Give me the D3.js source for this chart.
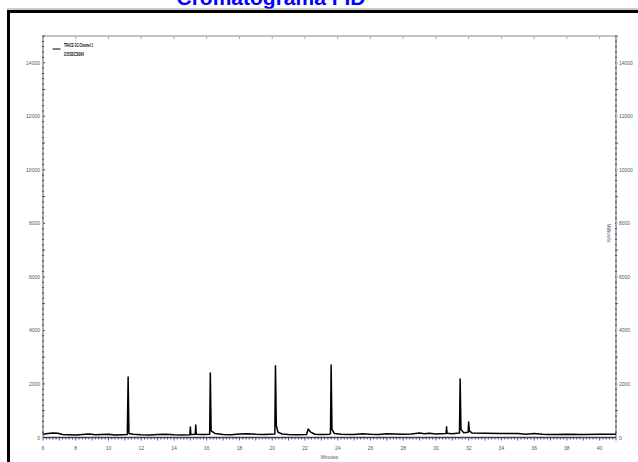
<!DOCTYPE html>
<html lang="en">

<body style="margin:0;background:#fff">
    <script type='text/javascript' src='https://d3js.org/d3.v7.min.js'></script>
    <script>
        // retention time (minutes) and detector signal (mV)
        var times = [6.0, 6.3, 6.6, 6.9, 7.2, 7.6, 8.0, 8.4, 8.8, 9.2, 9.6, 10.0, 10.4, 10.8, 11.15, 11.2, 11.25, 11.5,
            12.0, 12.5, 13.0, 13.5, 14.0, 14.5, 14.97, 15.0, 15.03, 15.3, 15.33, 15.36, 15.8, 16.18, 16.22, 16.27, 16.5,
            17.0, 17.5, 18.0, 18.5, 19.0, 19.5, 20.16, 20.2, 20.25, 20.35, 20.6, 21.0, 21.5, 22.1, 22.2, 22.35, 22.6,
            23.0, 23.5, 23.56, 23.6, 23.65, 23.8, 24.2, 25.0, 25.5, 26.0, 26.5, 27.0, 27.5, 28.0, 28.5, 29.0, 29.3, 29.6,
            30.0, 30.62, 30.65, 30.68, 31.0, 31.44, 31.48, 31.53, 31.7, 31.97, 32.0, 32.04, 32.2, 33.0, 34.0, 35.0,
            35.5, 36.0, 36.5, 37.0, 38.0, 39.0, 40.0, 41.0];
        var millivolts = [120, 150, 170, 160, 110, 100, 90, 110, 130, 100, 110, 120, 90, 100, 110, 2260, 150, 120,
            100, 90, 110, 120, 100, 90, 100, 390, 110, 120, 470, 120, 110, 120, 2410, 250, 150,
            110, 100, 130, 140, 120, 110, 130, 2680, 450, 200, 130, 110, 100, 110, 320, 200, 120,
            110, 120, 150, 2710, 300, 150, 120, 110, 140, 120, 110, 140, 130, 120, 130, 170, 140, 160,
            130, 150, 400, 160, 140, 170, 2190, 300, 180, 200, 580, 250, 170, 160, 150, 150,
            120, 150, 120, 110, 120, 110, 120, 120];

        var xTicks = [6, 8, 10, 12, 14, 16, 18, 20, 22, 24, 26, 28, 30, 32, 34, 36, 38, 40];
        var yTicks = [0, 2000, 4000, 6000, 8000, 10000, 12000, 14000];
        var legendLines = ["TRACE GC-Channel 1", "21533CS004"];
        var title = "Cromatograma FID";

        const width = 638, height = 462;
        const plotL = 43, plotR = 616, plotT = 36, plotB = 437.5;

        var svg = d3.select("body").append("svg")
            .attr("width", width)
            .attr("height", height)
            .style("display", "block")
            .style("font-family", "'Liberation Sans', Arial, sans-serif");

        // title (top edge is cropped in the original page) and page frame
        svg.append("text")
            .attr("x", 271).attr("y", 5)
            .attr("text-anchor", "middle")
            .attr("fill", "#0000ff")
            .attr("font-weight", "bold")
            .attr("font-size", 21)
            .text(title);
        svg.append("line").attr("x1", 7).attr("x2", width).attr("y1", 9).attr("y2", 9)
            .attr("stroke", "#999").attr("stroke-width", 1);
        svg.append("path")
            .attr("d", "M8.5," + (height + 5) + "V11.5H" + (width + 5))
            .attr("fill", "none").attr("stroke", "#000").attr("stroke-width", 3);

        var x = d3.scaleLinear().domain([6, 41]).range([plotL, plotR]);
        var y = d3.scaleLinear().domain([0, 15000]).range([plotB, plotT]);

        // top border with ticks every 2 min
        svg.append("line").attr("x1", plotL).attr("x2", plotR).attr("y1", plotT).attr("y2", plotT)
            .attr("stroke", "#888").attr("stroke-width", 1);
        svg.append("g").selectAll("line").data(xTicks.slice(1)).enter().append("line")
            .attr("x1", d => x(d)).attr("x2", d => x(d))
            .attr("y1", plotT).attr("y2", plotT + 3)
            .attr("stroke", "#aaa");

        // minor ticks
        var minorX = d3.range(60, 411, 2).map(d => d / 10);
        var minorY = d3.range(0, 15001, 200);

        var gx = svg.append("g");
        gx.append("line").attr("x1", plotL).attr("x2", plotR).attr("y1", plotB).attr("y2", plotB)
            .attr("stroke", "#444").attr("stroke-width", 1.5);
        gx.selectAll("line.minor").data(minorX).enter().append("line")
            .attr("class", "minor")
            .attr("x1", d => x(d)).attr("x2", d => x(d))
            .attr("y1", plotB).attr("y2", d => Math.abs(d % 1) < 0.01 ? plotB + 3 : plotB + 2)
            .attr("stroke", "#22228a").attr("stroke-width", 0.8);
        gx.selectAll("text").data(xTicks).enter().append("text")
            .attr("x", d => x(d)).attr("y", plotB + 12)
            .attr("text-anchor", "middle")
            .attr("font-size", 5).attr("fill", "#555")
            .text(d => d);
        svg.append("text")
            .attr("x", (plotL + plotR) / 2).attr("y", 459)
            .attr("text-anchor", "middle")
            .attr("font-size", 5).attr("fill", "#555")
            .text("Minutes");

        [plotL, plotR].forEach(function (ax, i) {
            var g = svg.append("g");
            g.append("line").attr("x1", ax).attr("x2", ax).attr("y1", plotT).attr("y2", plotB)
                .attr("stroke", "#777").attr("stroke-width", 1.2);
            g.selectAll("line.minor").data(minorY).enter().append("line")
                .attr("class", "minor")
                .attr("x1", ax - 1).attr("x2", d => d % 1000 === 0 ? ax + 2 : ax + 1)
                .attr("y1", d => y(d)).attr("y2", d => y(d))
                .attr("stroke", "#22228a").attr("stroke-width", 0.8);
            g.selectAll("line.major").data(yTicks).enter().append("line")
                .attr("class", "major")
                .attr("x1", i ? ax : ax - 2).attr("x2", i ? ax + 2 : ax)
                .attr("y1", d => y(d)).attr("y2", d => y(d))
                .attr("stroke", "#ddd").attr("stroke-width", 1);
            g.selectAll("text").data(yTicks).enter().append("text")
                .attr("x", i ? ax + 3 : ax - 3).attr("y", d => y(d) + 2)
                .attr("text-anchor", i ? "start" : "end")
                .attr("font-size", 5).attr("fill", "#555")
                .text(d => d);
        });
        svg.append("text")
            .attr("transform", "translate(607,233) rotate(90)")
            .attr("text-anchor", "middle")
            .attr("font-size", 5).attr("fill", "#555")
            .text("Millivolts");

        // trace
        var line = d3.line().x(d => x(d[0])).y(d => y(d[1]));
        svg.append("path")
            .datum(d3.zip(times, millivolts))
            .attr("d", line)
            .attr("fill", "none")
            .attr("stroke", "#000")
            .attr("stroke-width", 1.5)
            .attr("stroke-linejoin", "round");

        // legend
        svg.append("line").attr("x1", 52.5).attr("x2", 60.5).attr("y1", 49).attr("y2", 49)
            .attr("stroke", "#000").attr("stroke-width", 1);
        svg.selectAll("text.leg").data(legendLines).enter().append("text")
            .attr("class", "leg")
            .attr("x", 64).attr("y", (d, i) => 47 + i * 9)
            .attr("font-size", 6).attr("font-weight", "bold")
            .attr("textLength", (d, i) => i ? 20 : 29)
            .attr("lengthAdjust", "spacingAndGlyphs")
            .text(d => d);
    </script>

</body>

</html>
